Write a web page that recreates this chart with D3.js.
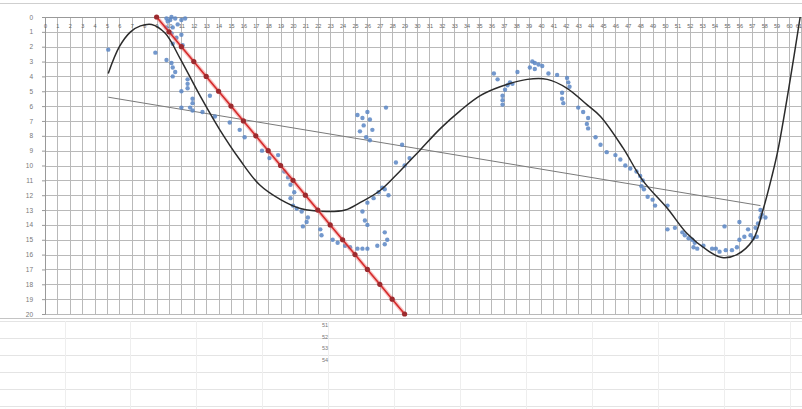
<!DOCTYPE html>
<html>
<head>
<meta charset="utf-8">
<script src="https://cdn.jsdelivr.net/npm/d3@7"></script>
<style>
  body { margin: 0; background: #fff; }
  text { font-family: "Liberation Sans", Arial, sans-serif; }
</style>
</head>
<body>
<div id="chart"></div>
<script>
// Tick labels
const xTicks = [0,1,2,3,4,5,6,7,8,9,10,11,12,13,14,15,16,17,18,19,20,21,22,23,24,25,26,27,28,29,30,
  31,32,33,34,35,36,37,38,39,40,41,42,43,44,45,46,47,48,49,50,51,52,53,54,55,56,57,58,59,60,61];
const yTicks = [0,1,2,3,4,5,6,7,8,9,10,11,12,13,14,15,16,17,18,19,20];

// Measured points (x, depth)
const measured = [
  [5.1,2.2],[8.9,2.4],[9.8,0.1],[9.9,0.3],[10.1,0.2],[10.2,0.0],[10.5,0.1],[10.7,0.5],[11.0,0.2],[11.3,0.1],
  [9.8,0.7],[10.3,0.7],[10.2,1.1],[11.0,1.2],[10.6,1.4],[10.3,1.8],[11.1,1.9],[9.8,2.9],[10.2,3.1],[10.3,3.4],
  [10.5,3.7],[10.3,4.0],[11.5,4.2],[11.5,4.5],[11.5,4.8],[11.0,5.0],[11.9,5.5],[11.9,5.8],[11.7,6.1],[11.0,6.1],
  [11.9,6.3],[12.7,6.4],[13.7,6.7],[13.3,5.3],
  [14.9,7.1],[15.7,7.6],[16.1,8.1],[17.5,9.0],[18.1,9.5],[18.8,9.3],[19.0,10.0],[19.3,10.4],[19.6,10.8],[19.8,11.3],
  [20.1,11.8],[19.8,12.2],[20.0,12.7],[20.3,12.9],[20.7,13.1],[21.1,13.8],[20.8,14.1],[21.2,13.5],[22.2,14.3],[22.3,14.7],
  [23.2,15.0],[23.6,15.2],[24.2,15.4],[24.6,15.5],[25.2,15.6],[25.6,15.6],[26.0,15.6],[26.8,15.4],[27.4,14.5],[27.6,15.0],
  [27.4,15.3],[26.0,14.0],[25.8,13.7],[25.6,13.1],[26.0,12.5],[26.5,12.2],[26.9,11.8],[27.4,11.6],[27.7,12.0],[27.2,11.5],
  [25.2,6.6],[25.6,6.8],[26.0,6.4],[26.2,6.9],[25.7,7.3],[26.4,7.6],[25.4,7.7],[25.9,8.1],[26.2,8.3],[27.5,6.1],
  [28.8,8.6],[29.4,9.5],[29.0,10.0],[28.3,9.8],
  [36.2,3.8],[36.5,4.2],[36.9,5.3],[36.9,5.6],[36.9,5.9],[37.1,4.9],[37.3,4.6],[37.5,4.4],[37.7,4.5],[38.1,3.7],
  [39.1,3.4],[39.3,3.0],[39.5,3.1],[39.8,3.2],[40.1,3.3],[39.5,3.5],[40.6,3.8],[41.3,3.9],[42.1,4.1],[42.2,4.4],
  [42.3,4.7],[41.7,5.1],[41.7,5.5],[41.8,5.8],[43.0,6.1],[43.4,6.4],[43.8,6.8],[43.7,7.2],[43.8,7.5],
  [44.4,8.1],[44.8,8.6],[45.3,9.1],[46.0,9.3],[46.4,9.6],[46.8,10.0],[47.2,10.2],[47.7,10.4],[48.0,10.7],[48.2,11.0],
  [48.1,11.4],[48.3,11.6],[48.6,12.1],[49.0,12.3],[49.2,12.7],[50.2,12.7],[50.2,14.3],[50.8,14.2],[51.4,14.5],[51.6,14.7],
  [51.9,14.9],[52.2,15.0],[52.4,15.2],[52.3,15.5],[52.6,15.6],[53.1,15.4],[53.8,15.6],[54.1,15.6],[54.4,15.8],[54.9,15.7],
  [55.4,15.7],[55.8,15.5],[54.8,14.1],[56.0,13.8],[56.0,15.0],[56.4,14.8],[56.7,14.3],[56.9,14.7],[57.1,14.9],[57.3,14.2],
  [57.4,14.8],[57.5,13.9],[57.7,13.5],[57.8,13.3],[58.1,13.5],[57.7,13.0]
];

// Polynomial trend line
const polyTrend = [
  [5.1,3.8],[6.0,2.0],[6.9,1.0],[7.7,0.6],[8.6,0.5],[9.7,1.1],[10.9,2.8],[12.5,5.3],[14.1,7.6],[15.7,9.6],
  [17.3,11.3],[19.0,12.3],[20.6,12.9],[22.7,13.1],[24.2,13.0],[25.4,12.5],[27.0,11.7],[28.6,10.4],[30.2,9.0],
  [31.9,7.5],[33.5,6.3],[35.1,5.3],[36.7,4.7],[38.9,4.2],[40.5,4.2],[42.1,4.8],[43.7,5.9],[44.8,6.7],[46.6,8.8],
  [48.2,11.0],[50.2,12.9],[51.8,14.6],[53.4,15.7],[54.6,16.2],[55.8,16.0],[57.1,15.0],[57.9,13.0],[58.6,10.8],
  [59.1,9.0],[60.1,4.2],[60.9,0.0]
];

// Linear trend line
const linTrendX = [5.1, 57.7];
const linTrendY = [5.4, 12.7];

// Red reference series
const refX = [9,10,11,12,13,14,15,16,17,18,19,20,21,22,23,24,25,26,27,28,29];
const refY = [0,1,2,3,4,5,6,7,8,9,10,11,12,13,14,15,16,17,18,19,20];

// Sheet cells under the chart
const cellLabels = ["51","52","53","54"];

// Set constants
const width = 802, height = 409;
const x = d3.scaleLinear().domain([0, 61]).range([45, 801.4]);
const y = d3.scaleLinear().domain([0, 20]).range([17, 314]);

const svg = d3.select('#chart')
  .append('svg')
  .attr('width', width)
  .attr('height', height);

// Spreadsheet background below the chart
const sheet = svg.append('g').attr('class', 'sheet');
sheet.selectAll('line.row')
  .data([321, 338, 355, 372, 389, 406])
  .join('line')
  .attr('class', 'row')
  .attr('x1', 0).attr('x2', width)
  .attr('y1', d => d + 0.5).attr('y2', d => d + 0.5)
  .attr('stroke', '#e4e4e4');
sheet.selectAll('line.col')
  .data([65, 130, 196, 262, 328, 394, 460, 526, 592, 658, 724, 790])
  .join('line')
  .attr('class', 'col')
  .attr('x1', d => d + 0.5).attr('x2', d => d + 0.5)
  .attr('y1', 321).attr('y2', height)
  .attr('stroke', '#eeeeee');
sheet.selectAll('text')
  .data(cellLabels)
  .join('text')
  .attr('x', 325)
  .attr('y', (d, i) => 327 + i * 11.7)
  .attr('text-anchor', 'middle')
  .attr('font-size', 5.5)
  .attr('fill', '#777')
  .text(d => d);

// Top border of the chart object
svg.append('line')
  .attr('x1', 0).attr('x2', width)
  .attr('y1', 3.5).attr('y2', 3.5)
  .attr('stroke', '#cfcfcf');
svg.append('line')
  .attr('x1', 0).attr('x2', width)
  .attr('y1', 318.5).attr('y2', 318.5)
  .attr('stroke', '#c4c4c4');

// Gridlines
svg.append('g')
  .selectAll('line')
  .data(xTicks)
  .join('line')
  .attr('x1', d => Math.round(x(d)) + 0.5)
  .attr('x2', d => Math.round(x(d)) + 0.5)
  .attr('y1', y(0)).attr('y2', y(20))
  .attr('stroke', '#b9b9b9');
svg.append('g')
  .selectAll('line')
  .data(yTicks)
  .join('line')
  .attr('x1', x(0)).attr('x2', width)
  .attr('y1', d => Math.round(y(d)) + 0.5)
  .attr('y2', d => Math.round(y(d)) + 0.5)
  .attr('stroke', '#b9b9b9');

// Axes (value axis reversed, category labels along the top)
svg.append('g')
  .attr('transform', `translate(${x(0)},0)`)
  .call(d3.axisLeft(y).tickValues(yTicks).tickSize(3).tickPadding(9))
  .call(g => g.select('.domain').attr('stroke', '#999'))
  .call(g => g.selectAll('.tick line').attr('stroke', '#999'))
  .call(g => g.selectAll('text').attr('font-size', 6.5).attr('fill', '#777').attr('font-family', 'Liberation Sans'));

svg.append('g')
  .attr('transform', `translate(0,${y(0)})`)
  .call(d3.axisBottom(x).tickValues(xTicks).tickSize(0).tickPadding(7))
  .call(g => g.select('.domain').attr('stroke', '#999'))
  .call(g => g.selectAll('text').attr('font-size', 5.5).attr('fill', '#666').attr('font-family', 'Liberation Sans'))
  .call(g => g.selectAll('.tick:last-of-type text').attr('text-anchor', 'end'));

// Linear trend
svg.append('line')
  .attr('x1', x(linTrendX[0])).attr('y1', y(linTrendY[0]))
  .attr('x2', x(linTrendX[1])).attr('y2', y(linTrendY[1]))
  .attr('stroke', '#7a7a7a')
  .attr('stroke-width', 1);

// Measured points
svg.append('g')
  .selectAll('circle')
  .data(measured)
  .join('circle')
  .attr('cx', d => x(d[0]))
  .attr('cy', d => y(d[1]))
  .attr('r', 2.2)
  .attr('fill', '#5a86c4')
  .attr('opacity', 0.85);

// Polynomial trend
const line = d3.line()
  .x(d => x(d[0]))
  .y(d => y(d[1]))
  .curve(d3.curveCatmullRom);
svg.append('path')
  .datum(polyTrend)
  .attr('d', line)
  .attr('fill', 'none')
  .attr('stroke', '#2b2b2b')
  .attr('stroke-width', 1.5);

// Red reference series
const ref = refX.map((d, i) => [d, refY[i]]);
svg.append('path')
  .datum(ref)
  .attr('d', d3.line().x(d => x(d[0])).y(d => y(d[1])))
  .attr('fill', 'none')
  .attr('stroke', '#f08080')
  .attr('stroke-width', 4)
  .attr('opacity', 0.5);
svg.append('path')
  .datum(ref)
  .attr('d', d3.line().x(d => x(d[0])).y(d => y(d[1])))
  .attr('fill', 'none')
  .attr('stroke', '#d42a2a')
  .attr('stroke-width', 1.6);
svg.append('g')
  .selectAll('circle')
  .data(ref)
  .join('circle')
  .attr('cx', d => x(d[0]))
  .attr('cy', d => y(d[1]))
  .attr('r', 2.6)
  .attr('fill', '#9c2a2e');
</script>
</body>
</html>
